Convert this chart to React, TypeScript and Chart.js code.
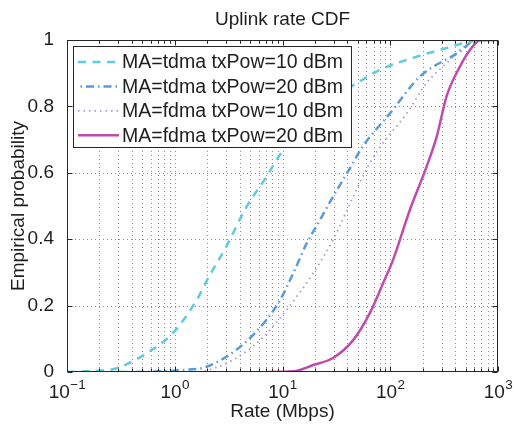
import React, { useEffect, useRef } from 'react';
import { Chart, registerables } from 'chart.js';

Chart.register(...registerables);

const TITLE = 'Uplink rate CDF';
const X_LABEL = 'Rate (Mbps)';
const Y_LABEL = 'Empirical probability';
const SERIES_NAMES = [
  'MA=tdma txPow=10 dBm',
  'MA=tdma txPow=20 dBm',
  'MA=fdma txPow=10 dBm',
  'MA=fdma txPow=20 dBm',
];

// MA=tdma txPow=10 dBm
const TDMA10_RATE = [0.1, 0.2, 0.28, 0.36, 0.55, 0.96, 1.6, 2.1, 3.0, 4.65, 7.1, 9.5, 15, 25, 49, 80, 162, 334, 550, 1000];
const TDMA10_CDF = [0, 0.004, 0.01, 0.024, 0.057, 0.117, 0.217, 0.29, 0.377, 0.498, 0.588, 0.655, 0.74, 0.81, 0.87, 0.91, 0.946, 0.976, 0.995, 1];

// MA=tdma txPow=20 dBm
const TDMA20_RATE = [0.3, 0.6, 1.19, 1.98, 4.05, 7.1, 9.5, 12.6, 16.8, 22.3, 29.4, 39.6, 55.8, 100, 189, 443, 630, 1000];
const TDMA20_CDF = [0, 0.001, 0.006, 0.016, 0.076, 0.157, 0.217, 0.298, 0.388, 0.458, 0.528, 0.598, 0.68, 0.78, 0.89, 0.965, 1, 1];

// MA=fdma txPow=10 dBm
const FDMA10_RATE = [1.5, 1.83, 3.45, 6.2, 10.9, 19.3, 29.4, 45.3, 64.8, 86, 143, 217, 333, 550, 1000];
const FDMA10_CDF = [0, 0.002, 0.036, 0.096, 0.187, 0.298, 0.398, 0.528, 0.63, 0.69, 0.78, 0.87, 0.93, 0.99, 1];

// MA=fdma txPow=20 dBm
const FDMA20_RATE = [7.1, 12.6, 19.3, 29.4, 45.3, 64.8, 86, 106, 152, 217, 270, 333, 443, 550, 690, 1000];
const FDMA20_CDF = [0, 0.002, 0.021, 0.042, 0.096, 0.178, 0.268, 0.337, 0.488, 0.618, 0.709, 0.83, 0.92, 0.97, 1, 1];

const X_MIN = 0.1;
const X_MAX = 1000;
const X_DECADES = [-1, 0, 1, 2, 3];
const MINOR_MULTIPLIERS = [1, 2, 3, 4, 5, 6, 7, 8, 9];
const Y_TICKS = [0, 0.2, 0.4, 0.6, 0.8, 1];

const FONT = '"Liberation Sans", Arial, Helvetica, sans-serif';
const TEXT_COLOR = '#1e1e1e';
const GRID_COLOR = '#8c8c8c';

const STYLES = [
  { color: '#5fcbdd', width: 2.5, dash: [8, 6.5] },
  { color: '#5a9bd8', width: 2.5, dash: [8, 4, 1.5, 4] },
  { color: '#a898d8', width: 1.8, dash: [1.5, 4] },
  { color: '#c04baa', width: 2.5, dash: [] as number[] },
];

const zip = (xs: number[], ys: number[]) => xs.map((x, i) => ({ x, y: ys[i] }));
const SERIES = [
  zip(TDMA10_RATE, TDMA10_CDF),
  zip(TDMA20_RATE, TDMA20_CDF),
  zip(FDMA10_RATE, FDMA10_CDF),
  zip(FDMA20_RATE, FDMA20_CDF),
];

const framePlugin = {
  id: 'matlabFrame',
  beforeDatasetsDraw(chart: any) {
    const { ctx, chartArea: a, scales } = chart;
    const xs = scales.x, ys = scales.y;
    ctx.save();
    ctx.beginPath();
    ctx.rect(a.left, a.top, a.right - a.left, a.bottom - a.top);
    ctx.clip();
    ctx.strokeStyle = GRID_COLOR;
    ctx.lineWidth = 1;
    ctx.setLineDash([1, 3]);
    for (const e of X_DECADES) {
      for (const m of MINOR_MULTIPLIERS) {
        const v = m * Math.pow(10, e);
        if (v <= X_MIN * 1.0001 || v >= X_MAX * 0.9999) continue;
        const px = Math.round(xs.getPixelForValue(v)) + 0.5;
        ctx.beginPath();
        ctx.moveTo(px, a.bottom);
        ctx.lineTo(px, a.top);
        ctx.stroke();
      }
    }
    for (const t of Y_TICKS) {
      if (t <= 0 || t >= 1) continue;
      const py = Math.round(ys.getPixelForValue(t)) + 0.5;
      ctx.beginPath();
      ctx.moveTo(a.left, py);
      ctx.lineTo(a.right, py);
      ctx.stroke();
    }
    ctx.restore();
  },
  afterDraw(chart: any) {
    const { ctx, chartArea: a, scales } = chart;
    const xs = scales.x, ys = scales.y;
    ctx.save();
    ctx.setLineDash([]);

    // Legend
    const lx = a.left + 6, ly = a.top + 6, lw = 279, lh = 102;
    ctx.fillStyle = '#ffffff';
    ctx.fillRect(lx, ly, lw, lh);
    ctx.strokeStyle = '#262626';
    ctx.lineWidth = 1;
    ctx.strokeRect(lx + 0.5, ly + 0.5, lw - 1, lh - 1);
    chart.data.datasets.forEach((ds: any, i: number) => {
      const cy = ly + 16 + i * 24.4;
      ctx.save();
      ctx.strokeStyle = ds.borderColor;
      ctx.lineWidth = ds.borderWidth;
      ctx.setLineDash(ds.borderDash || []);
      ctx.lineDashOffset = i === 1 ? 9.5 : 0;
      ctx.beginPath();
      ctx.moveTo(lx + 5, cy);
      ctx.lineTo(lx + 46, cy);
      ctx.stroke();
      ctx.restore();
      ctx.fillStyle = TEXT_COLOR;
      ctx.font = `19.5px ${FONT}`;
      ctx.textBaseline = 'middle';
      ctx.textAlign = 'left';
      ctx.fillText(ds.label, lx + 49, cy + 1);
    });

    // Frame
    ctx.strokeStyle = '#262626';
    ctx.lineWidth = 1;
    const L = Math.round(a.left) + 0.5, R = Math.round(a.right) - 0.5;
    const T = Math.round(a.top) + 0.5, B = Math.round(a.bottom) - 0.5;
    ctx.strokeRect(L, T, R - L, B - T);

    // Inward ticks
    ctx.beginPath();
    for (const e of X_DECADES) {
      for (const m of MINOR_MULTIPLIERS) {
        const v = m * Math.pow(10, e);
        if (v < X_MIN * 0.9999 || v > X_MAX * 1.0001) continue;
        const len = m === 1 ? 5 : 3;
        const px = Math.round(xs.getPixelForValue(v)) + 0.5;
        ctx.moveTo(px, B);
        ctx.lineTo(px, B - len);
        ctx.moveTo(px, T);
        ctx.lineTo(px, T + len);
      }
    }
    for (const t of Y_TICKS) {
      const py = Math.round(ys.getPixelForValue(t)) + 0.5;
      ctx.moveTo(L, py);
      ctx.lineTo(L + 5, py);
      ctx.moveTo(R, py);
      ctx.lineTo(R - 5, py);
    }
    ctx.stroke();

    // X tick labels 10^e
    ctx.fillStyle = TEXT_COLOR;
    ctx.textBaseline = 'alphabetic';
    ctx.textAlign = 'left';
    for (const e of X_DECADES) {
      const px = xs.getPixelForValue(Math.pow(10, e));
      const base = '10';
      const exp = e < 0 ? '\u2212' + Math.abs(e) : String(e);
      ctx.font = `19px ${FONT}`;
      const w1 = ctx.measureText(base).width;
      ctx.font = `13.5px ${FONT}`;
      const w2 = ctx.measureText(exp).width;
      const start = px - (w1 + w2) / 2;
      ctx.font = `19px ${FONT}`;
      ctx.fillText(base, start, 398);
      ctx.font = `13.5px ${FONT}`;
      ctx.fillText(exp, start + w1 + 0.5, 389);
    }
    ctx.restore();
  },
};

export default function App() {
  const ref = useRef<HTMLCanvasElement>(null);
  useEffect(() => {
    if (!ref.current) return;
    const chart = new Chart(ref.current, {
      type: 'line',
      data: {
        datasets: SERIES.map((data, i) => ({
          label: SERIES_NAMES[i],
          data,
          borderColor: STYLES[i].color,
          backgroundColor: STYLES[i].color,
          borderWidth: STYLES[i].width,
          borderDash: STYLES[i].dash,
          pointRadius: 0,
          fill: false,
          cubicInterpolationMode: 'monotone',
        })),
      },
      options: {
        responsive: false,
        animation: false,
        devicePixelRatio: 1,
        layout: { padding: { top: 0, right: 16, bottom: 0, left: 0 } },
        plugins: {
          legend: { display: false },
          tooltip: { enabled: false },
          title: {
            display: true,
            fullSize: false,
            text: TITLE,
            color: TEXT_COLOR,
            font: { family: FONT, size: 19, weight: 'normal', lineHeight: 1.2 },
            padding: { top: 8.8, bottom: 8.4 },
          },
        },
        scales: {
          x: {
            type: 'logarithmic',
            min: X_MIN,
            max: X_MAX,
            grid: { display: false },
            border: { display: false },
            ticks: { display: false },
            title: {
              display: true,
              text: X_LABEL,
              color: TEXT_COLOR,
              font: { family: FONT, size: 19, lineHeight: 1.2 },
              padding: { top: 0, bottom: 1 },
            },
            afterFit: (s: any) => { s.height = 52; },
          },
          y: {
            type: 'linear',
            min: 0,
            max: 1,
            grid: { display: false },
            border: { display: false },
            ticks: {
              stepSize: 0.2,
              color: TEXT_COLOR,
              padding: 5,
              font: { family: FONT, size: 19 },
              callback: (v: any) => String(+Number(v).toFixed(2)),
            },
            title: {
              display: true,
              text: Y_LABEL,
              color: TEXT_COLOR,
              font: { family: FONT, size: 19, lineHeight: 1.2 },
              padding: { top: 7.5, bottom: 0 },
            },
            afterFit: (s: any) => { s.width = 67; },
          },
        },
      },
      plugins: [framePlugin],
    } as any);
    return () => chart.destroy();
  }, []);
  return (
    <div style={{ position: 'fixed', left: 0, top: 0, width: 514, height: 424, background: '#fff' }}>
      <canvas ref={ref} width={514} height={424} style={{ display: 'block', width: 514, height: 424 }} />
    </div>
  );
}
